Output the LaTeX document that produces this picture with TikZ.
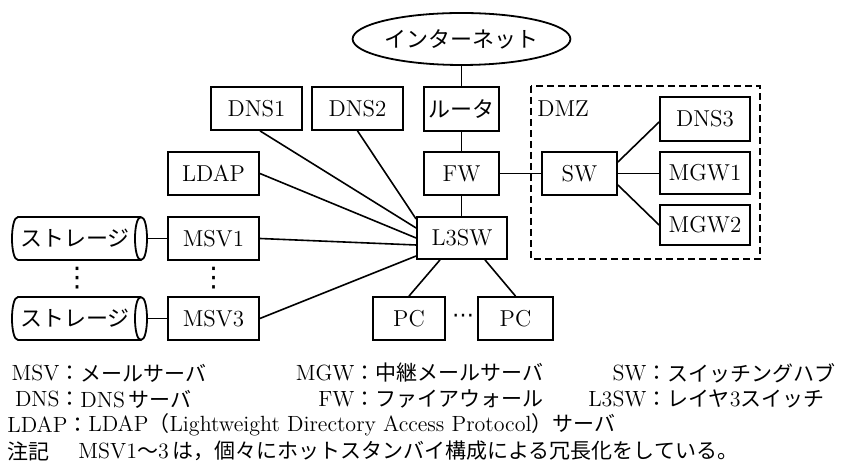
\documentclass[tikz,border=0pt]{standalone}
\usepackage{fontspec}
\newfontfamily\cjk{Noto Sans CJK JP}
\newfontfamily\dejavu{DejaVu Sans}
\newcommand\jp[1]{{\cjk\fontsize{10.5}{13}\selectfont #1}}
\newcommand\jb[1]{{\cjk\fontsize{11}{13}\selectfont #1}}
\usetikzlibrary{shapes.geometric}
\begin{document}
\begin{tikzpicture}[x=0.5pt,y=-0.5pt,
  box/.style={draw, line width=0.9pt, rectangle, inner sep=0pt, minimum height=21.5pt, font=\fontsize{11.5}{13}\selectfont},
  conn/.style={line width=0.8pt},
  txt/.style={inner sep=0pt, font=\fontsize{11.5}{13}\selectfont},
  dots/.style={inner sep=0pt, font=\dejavu\fontsize{11}{13}\selectfont},
  vdots/.style={inner sep=0pt, font=\dejavu\fontsize{13.5}{15}\selectfont},
  lg/.style={inner sep=0pt, font=\fontsize{11}{13}\selectfont}]
\useasboundingbox (0,0) rectangle (855,474);

% nodes
\node[draw, ellipse, line width=0.9pt, minimum width=86.5pt, minimum height=26pt, inner sep=0pt] (inet) at (461.5,39) {\jb{インターネット}};
\node[box, minimum width=45.5pt] (dns1) at (256.5,108.5) {DNS1};
\node[box, minimum width=45.5pt] (dns2) at (357.5,108.5) {DNS2};
\node[box, minimum width=37.5pt, minimum height=22pt] (router) at (461.5,109) {\jb{ルータ}};
\node[box, minimum width=45.5pt] (ldap) at (213.5,173.5) {LDAP};
\node[box, minimum width=37.5pt] (fw) at (461.5,173.5) {FW};
\node[box, minimum width=45pt, minimum height=21pt] (l3) at (462,238) {L3SW};
\node[box, minimum width=45.5pt] (msv1) at (213.5,238.5) {MSV1};
\node[box, minimum width=45.5pt] (msv3) at (213.5,318.5) {MSV3};
\node[box, minimum width=36pt] (pc1) at (409,318.5) {PC};
\node[box, minimum width=37.5pt] (pc2) at (515.5,318.5) {PC};
\node[dots] (hdots) at (463,318.5) {⋯};
\node[box, minimum width=37.5pt] (sw) at (579.5,173.5) {SW};
\node[box, minimum width=45pt, minimum height=22pt] (dns3) at (705,119) {DNS3};
\node[box, minimum width=45pt, minimum height=21pt] (mgw1) at (705,173) {MGW1};
\node[box, minimum width=45pt, minimum height=20pt] (mgw2) at (705,225) {MGW2};

% DMZ
\draw[line width=1pt, dash pattern=on 3.5pt off 2pt] (531,86) rectangle (760,259);
\node[txt, anchor=west] (dmz) at (537,109) {DMZ};

% storages
\draw[line width=0.9pt] (141,217) -- (18,217) .. controls (10,217) and (10,260) .. (18,260) -- (141,260);
\draw[line width=0.9pt] (141,217) .. controls (149,217) and (149,260) .. (141,260) .. controls (133,260) and (133,217) .. (141,217);
\node[txt] (st1) at (75,238.5) {\jb{ストレージ}};
\coordinate (st1e) at (147,238.5);
\draw[line width=0.9pt] (141,297) -- (18,297) .. controls (10,297) and (10,340) .. (18,340) -- (141,340);
\draw[line width=0.9pt] (141,297) .. controls (149,297) and (149,340) .. (141,340) .. controls (133,340) and (133,297) .. (141,297);
\node[txt] (st3) at (75,318.5) {\jb{ストレージ}};
\coordinate (st3e) at (147,318.5);
\node[vdots] (vd1) at (77,278) {⋮};
\node[vdots] (vd2) at (213.5,278) {⋮};

% connectors
\draw[conn] (inet) -- (router);
\draw[conn] (router) -- (fw);
\draw[conn] (fw.south) -- (fw.south |- l3.north);
\draw[conn] (fw) -- (sw);
\draw[conn] ([yshift=5.75pt]sw.east) -- ([yshift=-1.5pt]dns3.west);
\draw[conn] (sw.east) -- (sw.east -| mgw1.west);
\draw[conn] ([yshift=-5.75pt]sw.east) -- (mgw2.west);
\draw[conn] ([xshift=1.75pt]dns1.south) -- ([yshift=5pt]l3.west);
\draw[conn] (dns2.south) -- ([yshift=9.5pt]l3.west);
\draw[conn] (ldap.east) -- (l3.west);
\draw[conn] (msv1.east) -- ([yshift=-3.5pt]l3.west);
\draw[conn] (msv3.east) -- ([yshift=-9pt]l3.west);
\draw[conn] ([xshift=-11pt]l3.south) -- (pc1.north);
\draw[conn] ([xshift=11.5pt]l3.south) -- (pc2.north);
\draw[conn] (st1e) -- (msv1.west);
\draw[conn] (st3e) -- (msv3.west);

% legend
\node[lg, anchor=east] (l1a) at (60,373) {MSV};
\node[lg] (l1b) at (70,373) {\jp{：}};
\node[lg, anchor=west] (l1c) at (80,373) {\jp{メールサーバ}};
\node[lg, anchor=east] (l2a) at (355,373) {MGW};
\node[lg] (l2b) at (365,373) {\jp{：}};
\node[lg, anchor=west] (l2c) at (375,373) {\jp{中継メールサーバ}};
\node[lg, anchor=east] (l3a) at (647,373) {SW};
\node[lg] (l3b) at (657,373) {\jp{：}};
\node[lg, anchor=west] (l3c) at (667,373) {\jp{スイッチングハブ}};

\node[lg, anchor=east] (l4a) at (60,399) {DNS};
\node[lg] (l4b) at (70,399) {\jp{：}};
\node[lg, anchor=west] (l4c) at (80,399) {DNS\,\jp{サーバ}};
\node[lg, anchor=east] (l5a) at (355,399) {FW};
\node[lg] (l5b) at (365,399) {\jp{：}};
\node[lg, anchor=west] (l5c) at (375,399) {\jp{ファイアウォール}};
\node[lg, anchor=east] (l6a) at (647,399) {L3SW};
\node[lg] (l6b) at (657,399) {\jp{：}};
\node[lg, anchor=west] (l6c) at (667,399) {\jp{レイヤ}3\jp{スイッチ}};

\node[lg, anchor=west] (l7a) at (7,425) {LDAP};
\node[lg] (l7b) at (78,425) {\jp{：}};
\node[lg, anchor=west] (l7c) at (88,425) {LDAP\jp{（}Lightweight Directory Access Protocol\jp{）サーバ}};

\node[lg, anchor=west] (n1) at (7,451) {\jp{注記}};
\node[lg, anchor=west] (n2) at (78,451) {MSV1\jp{～}3\,\jp{は，個々にホットスタンバイ構成による冗長化をしている。}};
\end{tikzpicture}
\end{document}
